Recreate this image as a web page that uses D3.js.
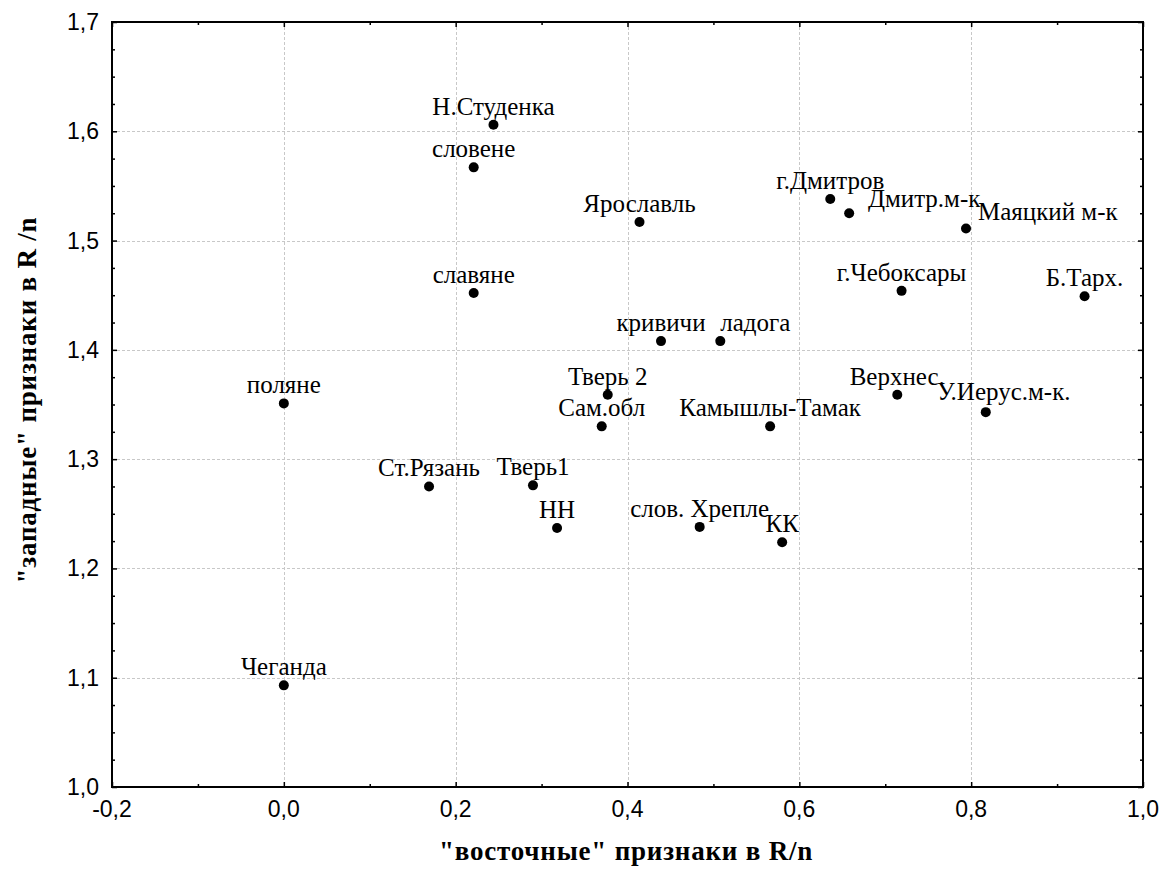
<!DOCTYPE html>
<html>
<head>
<meta charset="utf-8">
<script src="https://cdn.jsdelivr.net/npm/d3@7"></script>
<style>
 body{margin:0;background:#fff;}
 svg{display:block;}
</style>
</head>
<body>
<div id="chart"></div>
<script>
(function()
{
 "use strict";
 var names=["Н.Студенка","словене","Ярославль","славяне","кривичи","ладога","г.Дмитров","Дмитр.м-к","Маяцкий м-к","г.Чебоксары","Б.Тарх.","Верхнес.","У.Иерус.м-к.","Камышлы-Тамак","Тверь 2","Сам.обл","поляне","Ст.Рязань","Тверь1","НН","слов. Хрепле","КК","Чеганда"];
 var east=[0.244,0.221,0.414,0.221,0.439,0.508,0.636,0.658,0.794,0.719,0.932,0.714,0.817,0.566,0.377,0.370,0.000,0.169,0.290,0.318,0.484,0.580,0.000];
 var west=[1.606,1.567,1.517,1.452,1.408,1.408,1.538,1.525,1.511,1.454,1.449,1.359,1.343,1.330,1.359,1.330,1.351,1.275,1.276,1.237,1.238,1.224,1.093];
 var xTicks=[-0.2,0,0.2,0.4,0.6,0.8,1.0];
 var yTicks=[1.0,1.1,1.2,1.3,1.4,1.5,1.6,1.7];
 var xTitle="\"восточные\" признаки в R/n";
 var yTitle="\"западные\" признаки в R /n";

 // label nudges where the original moved a label off its point
 var nudge={
  "ладога":{anchor:"start",dx:0,dy:-10},
  "Дмитр.м-к":{anchor:"middle",dx:75,dy:-6},
  "Маяцкий м-к":{anchor:"start",dx:12,dy:-9},
  "У.Иерус.м-к.":{anchor:"middle",dx:18,dy:-12}
 };

 var W=1164,H=876,left=112,top=22,right=1143,bottom=787;
 var fmt=function(v){return d3.format(".1f")(v).replace(".",",").replace("\u2212","-");};
 var serif="Liberation Serif, Times New Roman, serif";
 var sans="Liberation Sans, Arial, sans-serif";

 var x=d3.scaleLinear().domain([-0.2,1.0]).range([left,right]);
 var y=d3.scaleLinear().domain([1.0,1.7]).range([bottom,top]);

 var svg=d3.select("#chart").append("svg").attr("width",W).attr("height",H);

 // grid
 var grid=svg.append("g").attr("stroke","#c8c8c8").attr("stroke-width",1).attr("stroke-dasharray","3,2");
 grid.selectAll("line.gx").data(xTicks.slice(1,-1)).enter().append("line")
  .attr("x1",function(d){return Math.round(x(d))+0.5;}).attr("x2",function(d){return Math.round(x(d))+0.5;})
  .attr("y1",top).attr("y2",bottom);
 grid.selectAll("line.gy").data(yTicks.slice(1,-1)).enter().append("line")
  .attr("y1",function(d){return Math.round(y(d))+0.5;}).attr("y2",function(d){return Math.round(y(d))+0.5;})
  .attr("x1",left).attr("x2",right);

 // axes with inward ticks
 var xMinor=d3.range(-0.2,1.0001,0.1);
 var yMinor=d3.range(1.0,1.7001,0.025);
 function isMajor(v,step){var r=Math.abs(v/step-Math.round(v/step));return r<1e-6;}
 function style(g,attr,major,minor,step)
 {
  g.select(".domain").remove();
  g.selectAll(".tick line").attr("stroke","#000").attr("stroke-width",1.5)
   .attr(attr,function(d){return isMajor(d,step)?major:minor;});
 }

 svg.append("g").attr("transform","translate(0,"+bottom+")")
  .call(d3.axisBottom(x).tickValues(xMinor).tickFormat(""))
  .call(function(g){style(g,"y2",-5,-3,0.2);});
 svg.append("g").attr("transform","translate(0,"+top+")")
  .call(d3.axisTop(x).tickValues(xMinor).tickFormat(""))
  .call(function(g){style(g,"y2",5,3,0.2);});
 svg.append("g").attr("transform","translate("+left+",0)")
  .call(d3.axisLeft(y).tickValues(yMinor).tickFormat(""))
  .call(function(g){style(g,"x2",5,3,0.1);});
 svg.append("g").attr("transform","translate("+right+",0)")
  .call(d3.axisRight(y).tickValues(yMinor).tickFormat(""))
  .call(function(g){style(g,"x2",-5,-3,0.1);});

 // frame
 svg.append("rect").attr("x",left).attr("y",top).attr("width",right-left).attr("height",bottom-top)
  .attr("fill","none").attr("stroke","#000").attr("stroke-width",2);

 // tick labels
 svg.append("g").selectAll("text").data(xTicks).enter().append("text")
  .attr("x",function(d){return x(d);}).attr("y",bottom+30)
  .attr("text-anchor","middle").attr("font-family",sans).attr("font-size",23)
  .text(fmt);
 svg.append("g").selectAll("text").data(yTicks).enter().append("text")
  .attr("x",left-13).attr("y",function(d){return y(d)+8;})
  .attr("text-anchor","end").attr("font-family",sans).attr("font-size",23)
  .text(fmt);

 // titles
 svg.append("text").attr("x",626).attr("y",860).attr("text-anchor","middle")
  .attr("font-family",serif).attr("font-weight","bold").attr("font-size",27)
  .attr("letter-spacing",0.8).text(xTitle);
 svg.append("text").attr("transform","translate(36,400) rotate(-90)").attr("text-anchor","middle")
  .attr("font-family",serif).attr("font-weight","bold").attr("font-size",27)
  .attr("letter-spacing",0.8).text(yTitle);

 // points and labels
 var pts=names.map(function(n,i){return {name:n,x:east[i],y:west[i]};});
 svg.append("g").selectAll("circle").data(pts).enter().append("circle")
  .attr("cx",function(d){return x(d.x);}).attr("cy",function(d){return y(d.y);})
  .attr("r",5).attr("fill","#000");
 svg.append("g").selectAll("text").data(pts).enter().append("text")
  .each(function(d)
  {
   var n=nudge[d.name]||{anchor:"middle",dx:0,dy:-10};
   d3.select(this).attr("x",x(d.x)+n.dx).attr("y",y(d.y)+n.dy).attr("text-anchor",n.anchor);
  })
  .attr("font-family",serif).attr("font-size",25)
  .text(function(d){return d.name;});
}());
</script>
</body>
</html>
